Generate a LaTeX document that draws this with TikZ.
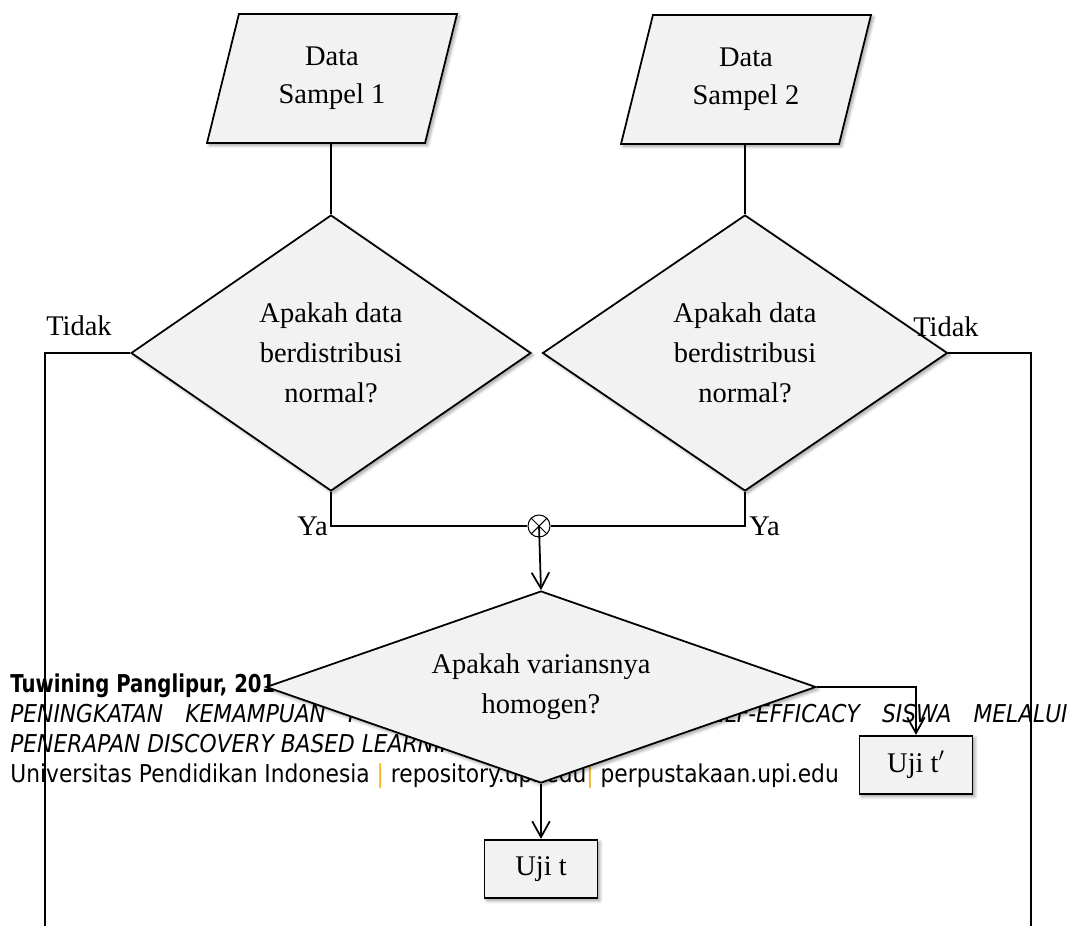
\documentclass[tikz,border=0pt]{standalone}
\usepackage{fontspec}
\setmainfont{Liberation Serif}
\newfontfamily\footfont[FakeStretch=0.885,BoldFeatures={FakeStretch=0.8}]{DejaVu Sans}
\usetikzlibrary{shapes.geometric,arrows.meta,shadows.blur}

\definecolor{boxfill}{HTML}{F2F2F2}
\definecolor{barorange}{HTML}{F8B323}

\tikzset{
  wire/.style={line width=1pt},
  arr/.style={wire,-{Straight Barb[length=9pt,width=10pt,line width=1pt]}},
  flow/.style={draw,line width=1pt,fill=boxfill,align=center,
    blur shadow={shadow xshift=1.3pt,shadow yshift=-1.3pt,shadow blur steps=6,shadow opacity=40},
    font=\fontsize{16.2}{21.6}\selectfont},
  datain/.style={flow,trapezium,trapezium left angle=63,trapezium right angle=117,
    trapezium stretches body,minimum width=5cm,minimum height=2.58cm,inner sep=0pt},
  ask/.style={flow,diamond,inner sep=0pt,font=\fontsize{16.2}{22.6}\selectfont},
  test/.style={flow,rectangle,minimum width=2.26cm,minimum height=1.17cm},
  answer/.style={inner sep=0pt,font=\fontsize{16.2}{20}\selectfont},
  junction/.style={circle,draw,line width=0.6pt,fill=white,minimum size=0.44cm,inner sep=0pt,
    path picture={\draw[line width=0.6pt]
      (path picture bounding box.north west) -- (path picture bounding box.south east)
      (path picture bounding box.north east) -- (path picture bounding box.south west);}},
  foot/.style={inner sep=0pt,font=\footfont\fontsize{14}{17}\selectfont}
}

\begin{document}
\begin{tikzpicture}[x=0.02cm,y=-0.02cm]
  \useasboundingbox (0,0) rectangle (1076,926);

  % page footer lying under the chart
  \node[foot,anchor=base west] (f1) at (10,692) {\bfseries Tuwining Panglipur, 201};
  \node[foot,anchor=base west] (f2) at (10,722) {\itshape PENINGKATAN\hspace{0.9em}KEMAMPUAN\hspace{0.9em}P};
  \node[foot,anchor=base east] (f2b) at (1068,722) {\itshape SELF-EFFICACY\hspace{0.9em}SISWA\hspace{0.9em}MELALUI};
  \node[foot,anchor=base west] (f3) at (10,752) {\itshape PENERAPAN DISCOVERY BASED LEARNING};
  \node[foot,anchor=base west] (f4) at (10,782)
    {Universitas Pendidikan Indonesia {\color{barorange}|} repository.upi.edu{\color{barorange}|} perpustakaan.upi.edu};

  % input data
  \node[datain] (s1) at (332,78.5) {Data\\Sampel 1};
  \node[datain] (s2) at (746,79.5) {Data\\Sampel 2};

  % normality checks
  \node[ask,minimum width=8cm,minimum height=5.52cm] (n1) at (331,353) {Apakah data\\berdistribusi\\normal?};
  \node[ask,minimum width=8.1cm,minimum height=5.52cm] (n2) at (745,353) {Apakah data\\berdistribusi\\normal?};

  \node[junction] (j) at (539,526) {};

  % homogeneity check and tests
  \node[ask,aspect=3,minimum width=11cm,minimum height=3.84cm] (h) at (541,687) {Apakah variansnya\\homogen?};
  \node[test] (t) at (541,869) {Uji t};
  \node[test] (tp) at (916,765) {Uji t$'$};

  \coordinate (bl) at (45,926);
  \coordinate (br) at (1031,926);

  \draw[wire] (n1.north |- s1.south) -- (n1.north);
  \draw[wire] (n2.north |- s2.south) -- (n2.north);
  \draw[wire] (n1.south) |- (j.west);
  \draw[wire] (n2.south) |- (j.east);
  \draw[arr] (j.center) -- (h.north);
  \draw[wire] (n1.west) -| (bl);
  \draw[wire] (n2.east) -| (br);
  \draw[arr] (h.east) -| (tp.north);
  \draw[arr] (h.south) -- (t.north);

  \node[answer,anchor=east] (ya1) at ([xshift=-0.06cm]n1.south |- j) {Ya};
  \node[answer,anchor=west] (ya2) at ([xshift=0.08cm]n2.south |- j) {Ya};
  \node[answer] (no1) at (79,326) {Tidak};
  \node[answer] (no2) at (946,327) {Tidak};
\end{tikzpicture}
\end{document}
